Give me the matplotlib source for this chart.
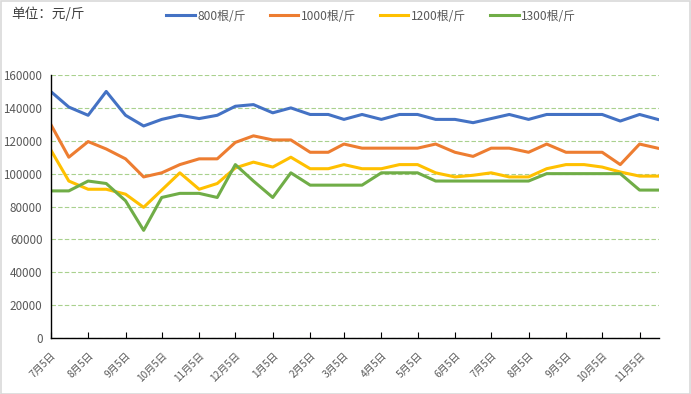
import matplotlib
matplotlib.use("Agg")
import matplotlib.pyplot as plt
import matplotlib.dates as mdates
import matplotlib.ticker as mticker
from matplotlib.patches import Rectangle
import pandas as pd

plt.rcParams['font.family'] = ['Noto Sans CJK SC', 'DejaVu Sans']

dates = [
    "2018-07-05", "2018-07-20", "2018-08-05", "2018-08-20", "2018-09-05", "2018-09-20",
    "2018-10-05", "2018-10-20", "2018-11-05", "2018-11-20", "2018-12-05", "2018-12-20",
    "2019-01-05", "2019-01-20", "2019-02-05", "2019-02-20", "2019-03-05", "2019-03-20",
    "2019-04-05", "2019-04-20", "2019-05-05", "2019-05-20", "2019-06-05", "2019-06-20",
    "2019-07-05", "2019-07-20", "2019-08-05", "2019-08-20", "2019-09-05", "2019-09-20",
    "2019-10-05", "2019-10-20", "2019-11-05", "2019-11-20",
]

s800 = [150000, 140500, 135500, 150000, 135500, 129000, 133000, 135500, 133500, 135500,
        141000, 142000, 137000, 140000, 136000, 136000, 133000, 136000, 133000, 136000,
        136000, 133000, 133000, 131000, 133500, 136000, 133000, 136000, 136000, 136000,
        136000, 132000, 136000, 133000]
s1000 = [130000, 110000, 119500, 115000, 109000, 98000, 100500, 105500, 109000, 109000,
         119000, 123000, 120500, 120500, 113000, 113000, 118000, 115500, 115500, 115500,
         115500, 118000, 113000, 110500, 115500, 115500, 113000, 118000, 113000, 113000,
         113000, 105500, 118000, 115500]
s1200 = [114500, 95500, 90500, 90500, 87500, 79500, 90000, 100500, 90500, 94000,
         103500, 107000, 104000, 110000, 103000, 103000, 105500, 103000, 103000, 105500,
         105500, 100500, 98000, 99000, 100500, 98000, 98000, 103000, 105500, 105500,
         104000, 101000, 98500, 98500]
s1300 = [89500, 89500, 95500, 94000, 83500, 65500, 85500, 88000, 88000, 85500,
         105500, 95500, 85500, 100500, 93000, 93000, 93000, 93000, 100500, 100500,
         100500, 95500, 95500, 95500, 95500, 95500, 95500, 100000, 100000, 100000,
         100000, 100000, 90000, 90000]

series_names = ["800根/斤", "1000根/斤", "1200根/斤", "1300根/斤"]
series_values = [s800, s1000, s1200, s1300]
colors = ["#4472C4", "#ED7D31", "#FFC000", "#70AD47"]
yticks = [0, 20000, 40000, 60000, 80000, 100000, 120000, 140000, 160000]

x = pd.to_datetime(dates)

fig = plt.figure(figsize=(6.91, 3.94), dpi=100)
fig.patches.append(Rectangle((0.001, 0.001), 0.997, 0.996, transform=fig.transFigure,
                             fill=False, edgecolor="#D9D9D9", linewidth=1.2))
ax = fig.add_axes([0.0734, 0.1421, 0.881, 0.6675])

lines = []
for name, vals, c in zip(series_names, series_values, colors):
    ln, = ax.plot(x, vals, color=c, linewidth=2.2, label=name, solid_joinstyle="round")
    lines.append(ln)

ax.set_ylim(0, 160000)
ax.set_yticks(yticks)
ax.yaxis.set_major_formatter(mticker.FuncFormatter(lambda v, p: f"{int(v)}"))
ax.set_xlim(x[0], x[-1] + pd.Timedelta(days=1.5))
ax.xaxis.set_major_locator(mdates.MonthLocator(bymonthday=5))
ax.xaxis.set_major_formatter(mticker.FuncFormatter(
    lambda v, p: f"{mdates.num2date(v).month}月{mdates.num2date(v).day}日"))

ax.grid(axis="y", color="#A9D18E", linestyle=(0, (4, 2)), linewidth=0.8)
ax.set_axisbelow(True)
for sp in ["top", "right"]:
    ax.spines[sp].set_visible(False)
for sp in ["left", "bottom"]:
    ax.spines[sp].set_color("black")
    ax.spines[sp].set_linewidth(1.0)

ax.tick_params(axis="y", length=0, labelsize=8.4, labelcolor="#595959", pad=6)
ax.tick_params(axis="x", length=4, direction="in", color="black", labelsize=7.3,
               labelcolor="#595959", pad=9)
for lab in ax.get_xticklabels():
    lab.set_rotation(45)
    lab.set_ha("right")
    lab.set_va("top")
    lab.set_rotation_mode("anchor")

fig.text(0.016, 0.965, "单位：元/斤", fontsize=9.8, color="#404040", ha="left", va="center")
fig.legend(handles=lines, labels=series_names, loc="center", bbox_to_anchor=(0.537, 0.959),
           ncol=4, frameon=False, fontsize=8.6, handlelength=2.4, columnspacing=2.0,
           handletextpad=0.2, labelcolor="#595959")

fig.savefig("out.png", dpi=100)
